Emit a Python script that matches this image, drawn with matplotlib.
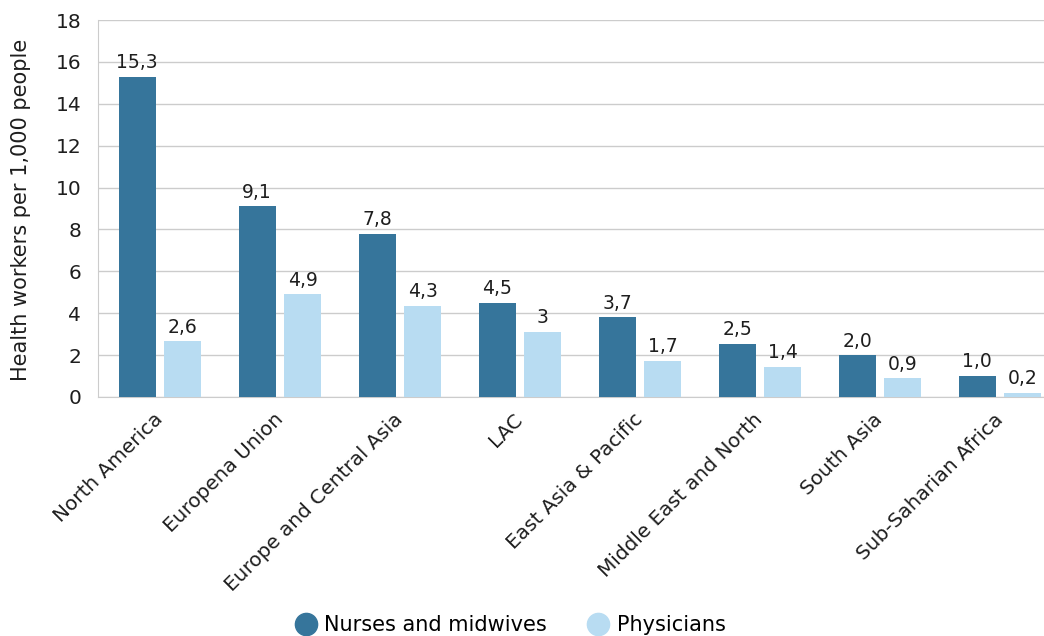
import matplotlib.pyplot as plt
import numpy as np

regions = ['North America', 'Europena Union', 'Europe and Central Asia', 'LAC',
           'East Asia & Pacific', 'Middle East and North', 'South Asia',
           'Sub-Saharian Africa']
nurses = [15.3, 9.1, 7.8, 4.5, 3.8, 2.55, 2.0, 1.0]
physicians = [2.65, 4.9, 4.35, 3.1, 1.73, 1.45, 0.9, 0.2]
nurse_labels = ['15,3', '9,1', '7,8', '4,5', '3,7', '2,5', '2,0', '1,0']
phys_labels = ['2,6', '4,9', '4,3', '3', '1,7', '1,4', '0,9', '0,2']
yticks = [0, 2, 4, 6, 8, 10, 12, 14, 16, 18]

dark = '#36759b'
light = '#b8dcf2'
ink = '#1e1e1e'

plt.rcParams['font.family'] = ['DejaVu Sans']

fig = plt.figure(figsize=(10.44, 6.36), dpi=100)
ax = fig.add_axes([98 / 1044, 1 - 397 / 636, 1 - 98 / 1044, (397 - 20) / 636])

x = np.arange(len(regions))
w = 0.31
b1 = ax.bar(x - 0.19, nurses, w, color=dark, label='Nurses and midwives', zorder=3)
b2 = ax.bar(x + 0.19, physicians, w, color=light, label='Physicians', zorder=3)

for rect, txt in zip(b1, nurse_labels):
    ax.text(rect.get_x() + rect.get_width() / 2, rect.get_height() + 0.22, txt,
            ha='center', va='bottom', fontsize=13.5, color=ink)
for rect, txt in zip(b2, phys_labels):
    ax.text(rect.get_x() + rect.get_width() / 2, rect.get_height() + 0.22, txt,
            ha='center', va='bottom', fontsize=13.5, color=ink)

ax.set_ylim(0, 18)
ax.set_xlim(-0.517, 7.367)
ax.set_yticks(yticks)
ax.tick_params(axis='y', length=0, pad=12, labelsize=14.5, colors=ink)
ax.tick_params(axis='x', length=0, pad=14)
ax.set_xticks(x)
ax.set_xticklabels(regions, rotation=45, ha='right', va='center',
                   rotation_mode='anchor', fontsize=14.4, color=ink)
ax.yaxis.grid(True, color='#cccccc', linewidth=1, zorder=0)

for side in ['top', 'right']:
    ax.spines[side].set_visible(False)
ax.spines['left'].set_color('#cccccc')
ax.spines['bottom'].set_color('#cccccc')

fig.text(21 / 1044, 1 - 210 / 636, 'Health workers per 1,000 people', rotation=90,
         ha='center', va='center', fontsize=15, color=ink)

handles = [plt.Line2D([], [], marker='o', linestyle='', markersize=16, color=dark),
           plt.Line2D([], [], marker='o', linestyle='', markersize=16, color=light)]
fig.legend(handles, ['Nurses and midwives', 'Physicians'], loc='center',
           bbox_to_anchor=(508 / 1044, 1 - 625 / 636), ncol=2, frameon=False,
           fontsize=15, handlelength=1.5, handletextpad=0.15, columnspacing=1.7)

fig.savefig('out.png', dpi=100)
